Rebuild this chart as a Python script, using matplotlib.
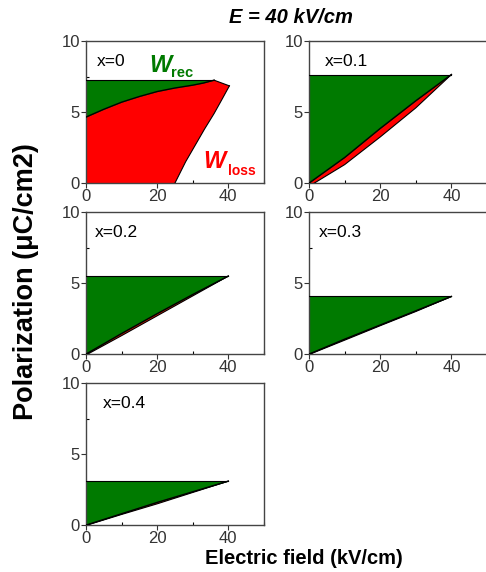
import numpy as np
import matplotlib.pyplot as plt
from matplotlib.ticker import MultipleLocator

plt.rcParams['font.family'] = ['Liberation Sans', 'DejaVu Sans']

labels = ['x=0', 'x=0.1', 'x=0.2', 'x=0.3', 'x=0.4']

# discharge branch (upper curve), E in kV/cm, P in uC/cm2
dis_E = [
    [0, 5, 10, 15, 20, 25, 30, 33, 36],
    [0, 10, 20, 30, 40],
    [0, 10, 20, 30, 40],
    [0, 10, 20, 30, 40],
    [0, 10, 20, 30, 40],
]
dis_P = [
    [4.65, 5.2, 5.7, 6.1, 6.45, 6.7, 6.9, 7.05, 7.25],
    [0, 1.8, 3.85, 5.8, 7.65],
    [0, 1.45, 2.85, 4.2, 5.5],
    [0, 1.05, 2.05, 3.05, 4.06],
    [0, 0.8, 1.6, 2.35, 3.1],
]
# charging branch (lower curve)
chg_E = [
    [25, 28, 31, 33.3, 36, 38, 40.3],
    [1.5, 10, 20, 30, 40],
    [0.5, 10, 20, 30, 40],
    [0.3, 10, 20, 30, 40],
    [0.3, 10, 20, 30, 40],
]
chg_P = [
    [0, 1.5, 2.8, 3.8, 4.9, 5.8, 6.85],
    [0, 1.3, 3.25, 5.3, 7.65],
    [0, 1.3, 2.7, 4.1, 5.5],
    [0, 0.98, 2.0, 3.0, 4.06],
    [0, 0.75, 1.5, 2.3, 3.1],
]
P_max = [7.25, 7.65, 5.5, 4.06, 3.1]
label_x = [0.06, 0.09, 0.05, 0.055, 0.095]

fig = plt.figure(figsize=(4.86, 5.72), dpi=100)

W = 0.366
H = 0.248
lefts = [0.177, 0.636]
bottoms = [0.680, 0.381, 0.082]

green = '#007a00'
red = '#ff0000'

for i in range(5):
    r, c = divmod(i, 2)
    ax = fig.add_axes([lefts[c], bottoms[r], W, H])
    de = np.array(dis_E[i])
    dp = np.array(dis_P[i])
    ce = np.array(chg_E[i])
    cp = np.array(chg_P[i])

    # red loss region: between charging and discharging branches
    loss_x = np.concatenate([[0], de, ce[::-1]])
    loss_y = np.concatenate([[0], dp, cp[::-1]])
    ax.fill(loss_x, loss_y, color=red, lw=0, zorder=2)
    # green recoverable region: between P_max and discharge branch
    ax.fill_between(de, dp, P_max[i], color=green, lw=0, zorder=2)

    ax.plot(de, dp, color='black', lw=1.0, zorder=3)
    ax.plot(ce, cp, color='black', lw=0.8, zorder=3)
    ax.plot([0, de[-1]], [P_max[i], P_max[i]], color='black', lw=0.8, zorder=3)
    if i == 0:
        ax.plot([de[-1], ce[-1]], [dp[-1], cp[-1]], color='black', lw=0.8, zorder=3)

    ax.set_xlim(0, 50)
    ax.set_ylim(0, 10)
    ax.xaxis.set_major_locator(MultipleLocator(20))
    ax.xaxis.set_minor_locator(MultipleLocator(10))
    ax.yaxis.set_major_locator(MultipleLocator(5))
    ax.yaxis.set_minor_locator(MultipleLocator(2.5))
    ax.tick_params(which='major', direction='out', length=3.5, width=0.8,
                   labelsize=12, pad=1, colors='#333333')
    ax.tick_params(which='minor', direction='in', length=2, width=0.8)
    for s in ax.spines.values():
        s.set_linewidth(1.0)
        s.set_color('#444444')

    ax.text(label_x[i], 0.91, labels[i], transform=ax.transAxes, fontsize=12.5,
            va='top', ha='left')

ax0 = fig.axes[0]
ax0.text(17.9, 7.8, 'W', fontsize=17, color=green, fontweight='bold',
         fontstyle='italic', va='baseline', ha='left')
ax0.text(24.0, 7.46, 'rec', fontsize=10.5, color=green, fontweight='bold',
         va='baseline', ha='left')
ax0.text(33.0, 1.06, 'W', fontsize=17, color=red, fontweight='bold',
         fontstyle='italic', va='baseline', ha='left')
ax0.text(39.9, 0.56, 'loss', fontsize=10, color=red, fontweight='bold',
         va='baseline', ha='left')

fig.text(0.599, 0.970, 'E = 40 kV/cm', fontsize=14.5, fontweight='bold',
         fontstyle='italic', ha='center', va='center')
fig.text(0.053, 0.508, 'Polarization (μC/cm2)', fontsize=19.5, fontweight='bold',
         rotation=90, ha='center', va='center')
fig.text(0.625, 0.023, 'Electric field (kV/cm)', fontsize=14.5, fontweight='bold',
         ha='center', va='center')

fig.savefig('out.png', dpi=100)
